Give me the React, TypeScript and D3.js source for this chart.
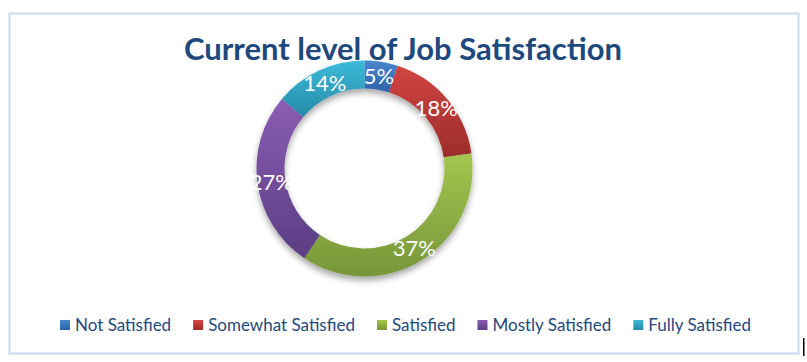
import { useEffect, useRef } from 'react';
import * as d3 from 'd3';

const categories = ['Not Satisfied', 'Somewhat Satisfied', 'Satisfied', 'Mostly Satisfied', 'Fully Satisfied'];
const percents = [5, 18, 37, 27, 14];
const lightColors = ['#4a86cf', '#d24542', '#a2c64e', '#8a5db3', '#3cbbd9'];
const darkColors = ['#2d64a8', '#9b2c2a', '#77963a', '#5b3e82', '#268aa8'];

const W = 807, H = 362;

const App = () => {
  const svgRef = useRef<SVGSVGElement>(null);

  useEffect(() => {
    const svg = d3.select(svgRef.current);
    svg.selectAll('*').remove();

    const defs = svg.append('defs');
    categories.forEach((c, i) => {
      const g = defs.append('linearGradient')
        .attr('id', 'grad' + i)
        .attr('x1', 0).attr('y1', 0).attr('x2', 0).attr('y2', 1);
      g.append('stop').attr('offset', '0%').attr('stop-color', lightColors[i]);
      g.append('stop').attr('offset', '100%').attr('stop-color', darkColors[i]);
    });
    const f = defs.append('filter').attr('id', 'shadow')
      .attr('x', '-20%').attr('y', '-20%').attr('width', '140%').attr('height', '150%');
    f.append('feDropShadow').attr('dx', 0).attr('dy', 4).attr('stdDeviation', 3)
      .attr('flood-color', '#000').attr('flood-opacity', 0.35);

    // chart border
    svg.append('rect')
      .attr('x', 9.5).attr('y', 13.5).attr('width', 789).attr('height', 340)
      .attr('fill', '#fff').attr('stroke', '#c6d9f0').attr('stroke-width', 2);

    svg.append('text')
      .attr('x', 403).attr('y', 60)
      .attr('text-anchor', 'middle')
      .attr('font-family', 'Lato, sans-serif')
      .attr('font-weight', 'bold')
      .attr('font-size', 31)
      .attr('fill', '#1f497d')
      .text('Current level of Job Satisfaction');

    const cx = 364.5, cy = 168.5;
    const outerR = 108, innerR = 80;
    const pie = d3.pie<number>().value(d => d).sort(null);
    const arc = d3.arc<d3.PieArcDatum<number>>().innerRadius(innerR).outerRadius(outerR);
    const arcs = pie(percents);

    const g = svg.append('g').attr('transform', `translate(${cx},${cy})`);
    g.append('g').attr('filter', 'url(#shadow)')
      .selectAll('path')
      .data(arcs)
      .enter()
      .append('path')
      .attr('d', arc)
      .attr('fill', (d, i) => `url(#grad${i})`);

    g.selectAll('text.lbl')
      .data(arcs)
      .enter()
      .append('text')
      .attr('class', 'lbl')
      .attr('transform', d => `translate(${arc.centroid(d)})`)
      .attr('dy', '0.36em')
      .attr('text-anchor', 'middle')
      .attr('font-family', 'Lato, sans-serif')
      .attr('font-size', 22)
      .attr('fill', '#fff')
      .text(d => d.data + '%');

    // legend
    const legend = svg.append('g');
    const items = legend.selectAll('g').data(categories).enter().append('g');
    items.append('rect')
      .attr('width', 10).attr('height', 10).attr('y', -11)
      .attr('fill', (d, i) => `url(#grad${i})`);
    items.append('text')
      .attr('x', 15)
      .attr('font-family', 'Lato, sans-serif')
      .attr('font-size', 17)
      .attr('fill', '#1f497d')
      .text(d => d);
    let x = 0;
    const offsets: number[] = [];
    items.each(function () {
      offsets.push(x);
      const t = d3.select(this).select('text').node() as SVGTextElement;
      x += 15 + t.getComputedTextLength() + 22;
    });
    const total = x - 22;
    const startX = 405.5 - total / 2;
    items.attr('transform', (d, i) => `translate(${startX + offsets[i]},331)`);

    // stray cursor mark in the screenshot
    svg.append('rect').attr('x', 803).attr('y', 338).attr('width', 1.5).attr('height', 18).attr('fill', '#000');
  }, []);

  return (
    <svg ref={svgRef} width={W} height={H} style={{ position: 'absolute', left: 0, top: 0 }} />
  );
};

export default App;
